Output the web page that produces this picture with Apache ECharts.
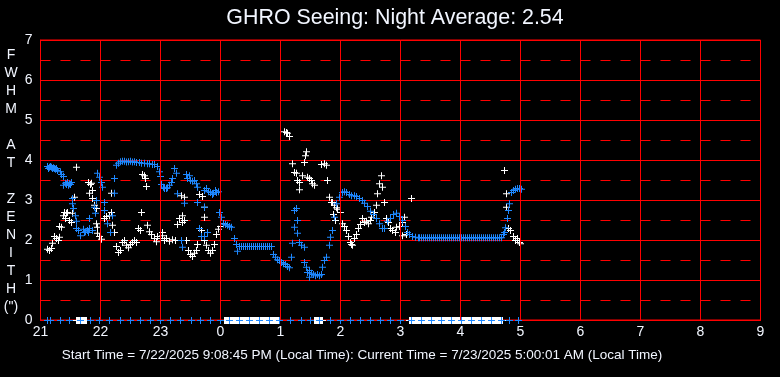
<!DOCTYPE html>
<html>
<head>
<meta charset="utf-8">
<script src="https://cdn.jsdelivr.net/npm/echarts@6/dist/echarts.min.js"></script>
<style>
html,body{margin:0;padding:0;background:#000;}
#chart{width:780px;height:377px;}
</style>
</head>
<body>
<div id="chart"></div>
<script>
// ---- data (x = minutes after 21:00 local time, y = FWHM in arcsec) ----
const titleText = "GHRO Seeing: Night Average: 2.54";
const footerText = "Start Time = 7/22/2025 9:08:45 PM (Local Time): Current Time = 7/23/2025 5:00:01 AM (Local Time)";
const yAxisTitle = ["F","W","H","M","","A","T","","Z","E","N","I","T","H","(\")"];
const xTickLabels = ["21","22","23","0","1","2","3","4","5","6","7","8","9"];
const yTickLabels = ["0","1","2","3","4","5","6","7"];
const hourLines = [60,120,180,240,300,360,420,480,540,600,660];

const blueSeeing = [
[7,3.85],[8,3.8],[9,3.83],[10,3.85],[11,3.83],[12,3.8],[13,3.82],[14,3.8],[15,3.78],[16,3.8],[17,3.75],[20,3.72],[21,3.65],[23,3.6],
[23,3.38],[25,3.43],[26,3.4],[27,3.45],[28,3.38],[29,3.42],[30,3.4],[31,3.45],[32,3.05],[32,2.92],[33,2.8],[35,2.62],[36,2.48],[36,2.3],
[38,2.25],[40,2.12],[43,2.28],[44,2.2],[45,2.22],[47,2.25],[48,2.2],[49,2.3],[49,2.55],[52,2.25],[54,2.83],[55,2.68],[56,3.0],[57,3.68],
[59,3.58],[61,3.45],[62,3.33],[64,2.95],[64,2.75],[67,2.42],[70,2.2],[72,2.62],[74,3.55],[74,3.18],[76,3.88],[78,3.93],[80,3.97],[82,3.98],
[84,3.98],[86,3.96],[88,3.97],[90,3.98],[92,3.96],[94,3.97],[96,3.95],[99,3.95],[101,3.93],[104,3.93],[107,3.92],[109,3.92],[112,3.9],
[114,3.9],[117,3.85],[119,3.72],[120,3.6],[121,3.4],[123,3.33],[124,3.3],[126,3.3],[127,3.32],[129,3.38],[131,3.45],[132,3.55],[134,3.8],
[136,3.68],[137,3.17],[141,2.0],[142,1.83],[144,2.93],[146,3.65],[147,3.55],[149,3.62],[150,3.5],[152,3.48],[154,3.5],[156,3.42],[157,3.33],
[157,2.95],[159,2.3],[161,2.1],[164,2.83],[164,3.25],[164,2.1],[166,3.3],[167,2.2],[168,3.22],[170,3.2],[172,3.15],[173,3.18],[175,3.25],
[176,3.2],[178,3.22],[179,2.7],[181,2.58],[183,2.42],[185,2.4],[187,2.38],[189,2.35],[191,2.33],[194,2.05],[196,1.9],[197,1.73],
[199,1.85],[201,1.85],[203,1.85],[205,1.85],[207,1.85],[209,1.85],[211,1.85],[213,1.85],[215,1.85],[217,1.85],[219,1.85],[221,1.85],
[223,1.85],[225,1.85],[227,1.85],[229,1.85],[231,1.85],
[233,1.65],[235,1.58],[237,1.52],[239,1.5],[241,1.45],[243,1.42],[245,1.4],[247,1.35],[249,1.32],[251,1.58],[252,1.93],[254,2.75],[254,2.33],
[256,2.8],[257,2.5],[257,2.18],[259,1.95],[261,1.88],[264,1.83],[264,1.45],[266,1.33],[267,1.2],[269,1.25],[269,1.08],[271,1.18],[273,1.15],
[275,1.12],[277,1.15],[279,1.12],[281,1.15],[282,1.33],[284,1.5],[286,1.58],[289,1.88],[290,2.08],[292,2.25],[294,2.58],[296,2.92],[299,3.08],
[302,3.2],[304,3.22],[306,3.2],[309,3.15],[311,3.12],[314,3.12],[316,3.1],[319,3.05],[322,3.0],[324,2.93],[327,2.85],[330,2.73],[333,2.65],
[336,2.55],[339,2.42],[342,2.3],[344,2.3],[347,2.48],[350,2.55],[353,2.65],[356,2.68],[359,2.6],[362,2.5],[365,2.35],[367,2.2],[369,2.15],
[372,2.1],[375,2.08],[378,2.07],
[379,2.07],[381,2.07],[383,2.07],[385,2.07],[387,2.07],[389,2.07],[391,2.07],[393,2.07],[395,2.07],[397,2.07],[399,2.07],[401,2.07],
[403,2.07],[405,2.07],[407,2.07],[409,2.07],[411,2.07],[413,2.07],[415,2.07],[417,2.07],[419,2.07],[421,2.07],[423,2.07],[425,2.07],
[427,2.07],[429,2.07],[431,2.07],[433,2.07],[435,2.07],[437,2.07],[439,2.07],[441,2.07],[443,2.07],[445,2.07],[447,2.07],[449,2.07],
[451,2.07],[453,2.07],[455,2.07],[457,2.07],[459,2.07],[461,2.07],
[463,2.15],[464,2.2],[465,2.32],[467,2.55],[468,2.75],[469,2.92],[471,3.2],[473,3.25],[475,3.28],[477,3.3],[479,3.3],[481,3.28]
];

const whiteSeeing = [
[7,1.78],[9,1.75],[11,1.8],[12,1.93],[14,2.1],[16,2.05],[18,2.0],[19,2.08],[19,2.35],[21,2.33],[23,2.62],[24,2.7],[25,2.55],[26,2.68],
[27,2.7],[29,2.5],[31,2.45],[32,2.68],[34,3.08],[36,3.83],[48,3.45],[49,3.18],[50,3.4],[51,3.43],[52,3.25],[52,3.05],[54,2.88],[56,2.42],
[56,2.8],[57,2.33],[57,2.18],[59,2.1],[61,2.03],[64,2.55],[66,2.6],[69,2.62],[71,2.7],[71,3.18],[72,2.38],[74,2.2],[76,1.85],[78,1.7],
[80,1.75],[82,1.95],[84,2.0],[86,1.88],[88,1.82],[90,1.9],[92,1.95],[94,2.0],[96,1.95],[98,2.3],[100,2.25],[101,2.7],[102,3.65],[104,3.62],
[105,3.55],[106,3.35],[107,2.38],[109,2.22],[111,2.15],[114,2.05],[116,1.97],[117,2.1],[120,2.05],[122,2.2],[122,2.12],[124,2.0],[126,2.05],
[129,1.98],[132,2.02],[135,2.0],[137,2.4],[139,2.55],[141,3.12],[142,2.45],[142,2.62],[144,3.08],[144,2.5],[146,2.0],[148,1.75],[150,1.65],
[152,1.6],[154,1.68],[156,1.75],[157,1.9],[159,2.3],[159,3.15],[161,2.25],[162,3.1],[164,2.83],[164,2.58],[164,2.0],[166,1.88],[168,1.75],
[170,1.68],[172,1.75],[174,1.9],[176,2.15],[178,2.28],[180,2.35],[183,2.42],
[244,4.72],[246,4.7],[247,4.68],[249,4.6],[252,3.92],[254,3.7],[256,3.68],[257,3.5],[259,3.45],[259,3.27],[262,3.62],[264,3.95],[265,4.12],
[266,4.22],[267,3.58],[269,3.55],[271,3.5],[272,3.42],[274,3.38],[281,3.9],[284,3.92],[286,3.88],[287,3.5],[289,3.08],[291,2.95],[292,2.95],
[293,2.65],[294,2.88],[295,2.5],[296,2.82],[297,2.78],[300,2.7],[302,2.42],[304,2.35],[306,2.25],[308,2.1],[310,1.95],[311,1.9],[312,1.88],
[314,2.05],[316,2.15],[318,2.3],[320,2.4],[322,2.55],[324,2.45],[326,2.48],[328,2.42],[330,2.5],[331,2.58],[334,2.7],[336,2.88],[337,3.17],
[339,3.42],[341,3.62],[342,3.33],[344,2.95],[346,2.55],[348,2.45],[350,2.3],[352,2.25],[355,2.2],[356,2.33],[359,2.35],[362,2.45],[362,2.12],
[364,2.58],[366,2.15],[371,3.05],
[464,3.75],[466,3.17],[466,2.83],[468,2.3],[470,2.25],[473,2.1],[475,2.0],[477,2.05],[479,1.95],[480,1.92]
];

const blueZeroTimes = [7,10,20,29,40,50,59,69,80,90,100,110,120,130,140,151,160,170,180,189,199,209,219,229,239,250,261,270,279,290,
300,310,320,330,340,350,360,371,381,391,401,411,421,431,441,451,461,469,478];

const whiteZeroTimes = [36,37,38,39,40,41,42,43,44,45,46,
184,185,186,187,188,189,190,191,192,193,194,195,196,197,198,199,200,201,202,203,204,205,206,207,208,209,210,211,212,213,214,215,216,217,
218,219,220,221,222,223,224,225,226,227,228,229,230,231,232,233,234,235,236,237,238,239,
250,
274,275,276,277,278,279,280,281,282,
369,370,371,372,373,374,375,376,377,378,379,380,381,382,383,384,385,386,387,388,389,390,391,392,393,394,395,396,397,398,399,400,401,402,
403,404,405,406,407,408,409,410,411,412,413,414,415,416,417,418,419,420,421,422,423,424,425,426,427,428,429,430,431,432,433,434,435,436,
437,438,439,440,441,442,443,444,445,446,447,448,449,450,451,452,453,454,455,456,457,458,459,460,461,462];

// ---- chart ----
const RED = '#ff0000';
const BLUE = '#1e88ff';
const WHITE = '#ffffff';
const TXT = '#f2f6ff';
const FONT = '"Liberation Sans", Arial, sans-serif';
const PLUS = 'path://M3,0H4V3H7V4H4V7H3V4H0V3H3Z';

function plusSeries(name, data, color) {
  return {
    name: name, type: 'scatter', data: data,
    symbol: PLUS, symbolSize: 7, symbolOffset: [0, 0.5],
    itemStyle: { color: color, opacity: 1 },
    emphasis: { disabled: true }, silent: true
  };
}

const chart = echarts.init(document.getElementById('chart'), null, { renderer: 'canvas' });
chart.setOption({
  backgroundColor: '#000000',
  animation: false,
  textStyle: { fontFamily: FONT },
  grid: { left: 40.5, top: 40, width: 720, height: 280, show: true, borderColor: RED, borderWidth: 1, backgroundColor: 'transparent' },
  xAxis: {
    type: 'value', min: 0, max: 720, interval: 60,
    axisLine: { show: true, lineStyle: { color: RED, width: 1 } },
    axisTick: { show: false },
    splitLine: { show: false },
    axisLabel: { color: TXT, fontSize: 14, fontFamily: FONT, margin: 5,
      formatter: function (v) { return xTickLabels[Math.round(v / 60)]; } }
  },
  yAxis: {
    type: 'value', min: 0, max: 7, interval: 1,
    axisLine: { show: true, lineStyle: { color: RED, width: 1 } },
    axisTick: { show: false },
    minorTick: { show: false, splitNumber: 2 },
    splitLine: { show: true, lineStyle: { color: RED, width: 1 } },
    minorSplitLine: { show: true, lineStyle: { color: RED, width: 1, type: [10, 10] } },
    axisLabel: { color: TXT, fontSize: 14, fontFamily: FONT, margin: 8,
      formatter: function (v) { return yTickLabels[Math.round(v)]; } }
  },
  graphic: [
    { type: 'text', x: 395, y: 18, silent: true,
      style: { text: titleText, fill: TXT, font: '21.4px ' + FONT, align: 'center', verticalAlign: 'middle' } },
    { type: 'text', x: 11, y: 46, silent: true,
      style: { text: yAxisTitle.join('\n'), fill: TXT, font: '14px ' + FONT, lineHeight: 18, align: 'center', verticalAlign: 'top' } },
    { type: 'text', x: 362, y: 355, silent: true,
      style: { text: footerText, fill: TXT, font: '13.5px ' + FONT, align: 'center', verticalAlign: 'middle' } }
  ],
  series: [
    {
      name: 'hourGrid', type: 'line', data: [],
      markLine: {
        silent: true, symbol: ['none', 'none'], animation: false,
        label: { show: false },
        lineStyle: { color: RED, width: 1, type: 'solid', opacity: 1 },
        data: hourLines.map(function (h) { return { xAxis: h }; })
      }
    },
    plusSeries('white', whiteSeeing, WHITE),
    plusSeries('whiteZero', whiteZeroTimes.map(function (t) { return [t, 0]; }), WHITE),
    plusSeries('blue', blueSeeing, BLUE),
    plusSeries('blueZero', blueZeroTimes.map(function (t) { return [t, 0]; }), BLUE)
  ]
});
</script>
</body>
</html>
